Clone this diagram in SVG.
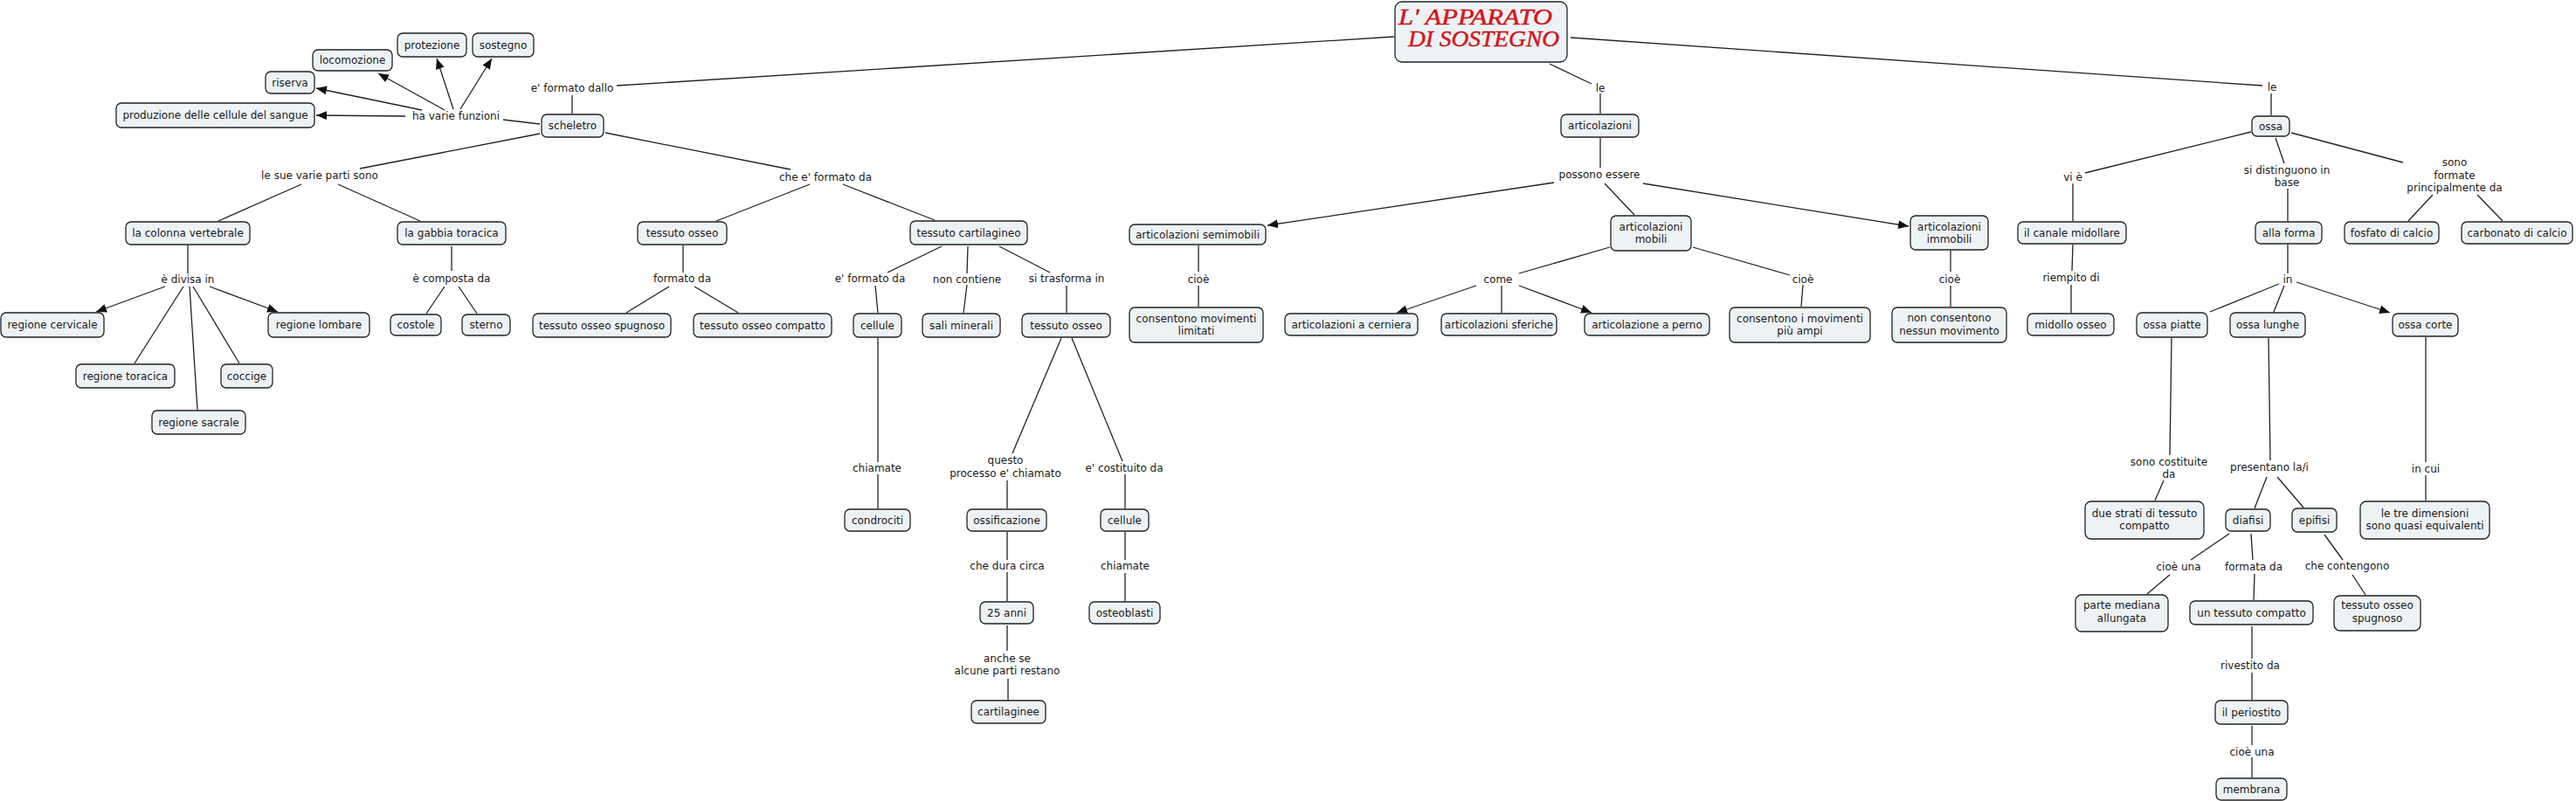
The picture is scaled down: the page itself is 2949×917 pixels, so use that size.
<svg xmlns="http://www.w3.org/2000/svg" width="2949" height="917" viewBox="0 0 2949 917">
<style>
.node rect{fill:#edf2f5;stroke:#222;stroke-width:1.3}
text{font-family:"DejaVu Sans","Noto Sans",sans-serif;font-size:12px;fill:#1a1a1a;text-anchor:middle}
.conn line{stroke:#222;stroke-width:1.3}
.conn line.arr{marker-end:url(#ah)}
.title{font-family:"Liberation Serif","DejaVu Serif",serif;font-style:italic;font-size:26px;fill:#e3151c;stroke:#b00000;stroke-width:0.4;text-anchor:start}
</style>
<defs>
<marker id="ah" markerUnits="userSpaceOnUse" markerWidth="13" markerHeight="11" refX="12" refY="5" orient="auto">
<path d="M0,0 L12,5 L0,10 z" fill="#111"/>
</marker>
</defs>
<rect width="2949" height="917" fill="#fff"/>
<g id="connectors" class="conn">
<line x1="706" y1="98" x2="1596" y2="42"/>
<line x1="655" y1="109" x2="655" y2="130"/>
<line x1="618" y1="142" x2="576" y2="137"/>
<line class="arr" x1="464" y1="133" x2="362" y2="132"/>
<line class="arr" x1="483" y1="126" x2="362" y2="101"/>
<line class="arr" x1="509" y1="126" x2="433" y2="84"/>
<line class="arr" x1="519" y1="125" x2="500" y2="67"/>
<line class="arr" x1="527" y1="125" x2="563" y2="67"/>
<line x1="618" y1="153" x2="412" y2="193"/>
<line x1="345" y1="211" x2="250" y2="253"/>
<line x1="387" y1="211" x2="481" y2="253"/>
<line x1="215" y1="281" x2="215" y2="313"/>
<line class="arr" x1="189" y1="328" x2="110" y2="357"/>
<line x1="210" y1="328" x2="154" y2="416"/>
<line x1="217" y1="328" x2="226" y2="469"/>
<line x1="221" y1="328" x2="274" y2="416"/>
<line class="arr" x1="240" y1="328" x2="318" y2="357"/>
<line x1="517" y1="282" x2="517" y2="310"/>
<line x1="509" y1="328" x2="488" y2="359"/>
<line x1="525" y1="328" x2="546" y2="359"/>
<line x1="693" y1="152" x2="905" y2="194"/>
<line x1="927" y1="211" x2="820" y2="253"/>
<line x1="965" y1="211" x2="1070" y2="252"/>
<line x1="782" y1="281" x2="782" y2="312"/>
<line x1="766" y1="328" x2="717" y2="358"/>
<line x1="795" y1="328" x2="845" y2="358"/>
<line x1="1078" y1="282" x2="1016" y2="312"/>
<line x1="1002" y1="327" x2="1005" y2="358"/>
<line x1="1108" y1="282" x2="1107" y2="313"/>
<line x1="1107" y1="326" x2="1103" y2="358"/>
<line x1="1144" y1="282" x2="1202" y2="312"/>
<line x1="1221" y1="327" x2="1221" y2="358"/>
<line x1="1005" y1="387" x2="1005" y2="529"/>
<line x1="1005" y1="543" x2="1005" y2="582"/>
<line x1="1215" y1="387" x2="1159" y2="519"/>
<line x1="1153" y1="550" x2="1153" y2="582"/>
<line x1="1227" y1="387" x2="1285" y2="528"/>
<line x1="1288" y1="543" x2="1288" y2="582"/>
<line x1="1153" y1="609" x2="1153" y2="641"/>
<line x1="1153" y1="655" x2="1153" y2="688"/>
<line x1="1288" y1="609" x2="1288" y2="641"/>
<line x1="1288" y1="656" x2="1288" y2="688"/>
<line x1="1153" y1="716" x2="1153" y2="745"/>
<line x1="1154" y1="777" x2="1154" y2="801"/>
<line x1="1774" y1="73" x2="1822" y2="96"/>
<line x1="1832" y1="107" x2="1832" y2="130"/>
<line x1="1832" y1="158" x2="1832" y2="192"/>
<line class="arr" x1="1779" y1="209" x2="1451" y2="258"/>
<line x1="1837" y1="210" x2="1871" y2="246"/>
<line class="arr" x1="1881" y1="210" x2="2185" y2="259"/>
<line x1="1372" y1="281" x2="1372" y2="311"/>
<line x1="1372" y1="327" x2="1372" y2="351"/>
<line x1="1843" y1="283" x2="1739" y2="313"/>
<line class="arr" x1="1690" y1="327" x2="1599" y2="358"/>
<line x1="1719" y1="327" x2="1719" y2="358"/>
<line class="arr" x1="1739" y1="327" x2="1822" y2="358"/>
<line x1="1938" y1="283" x2="2049" y2="315"/>
<line x1="2064" y1="326" x2="2062" y2="351"/>
<line x1="2233" y1="287" x2="2233" y2="311"/>
<line x1="2233" y1="327" x2="2233" y2="351"/>
<line x1="1798" y1="43" x2="2590" y2="98"/>
<line x1="2600" y1="107" x2="2600" y2="132"/>
<line x1="2577" y1="151" x2="2387" y2="198"/>
<line x1="2373" y1="210" x2="2373" y2="253"/>
<line x1="2373" y1="280" x2="2372" y2="310"/>
<line x1="2371" y1="326" x2="2371" y2="358"/>
<line x1="2605" y1="158" x2="2615" y2="187"/>
<line x1="2619" y1="216" x2="2619" y2="253"/>
<line x1="2619" y1="280" x2="2619" y2="313"/>
<line x1="2609" y1="325" x2="2530" y2="357"/>
<line x1="2615" y1="327" x2="2603" y2="357"/>
<line class="arr" x1="2629" y1="323" x2="2736" y2="358"/>
<line x1="2623" y1="152" x2="2751" y2="186"/>
<line x1="2785" y1="223" x2="2757" y2="253"/>
<line x1="2836" y1="223" x2="2865" y2="253"/>
<line x1="2486" y1="387" x2="2484" y2="521"/>
<line x1="2477" y1="550" x2="2467" y2="573"/>
<line x1="2597" y1="387" x2="2599" y2="527"/>
<line x1="2595" y1="546" x2="2581" y2="582"/>
<line x1="2607" y1="546" x2="2637" y2="581"/>
<line x1="2777" y1="386" x2="2777" y2="529"/>
<line x1="2777" y1="544" x2="2777" y2="573"/>
<line x1="2552" y1="611" x2="2508" y2="641"/>
<line x1="2577" y1="611" x2="2579" y2="641"/>
<line x1="2661" y1="612" x2="2682" y2="641"/>
<line x1="2484" y1="658" x2="2458" y2="680"/>
<line x1="2581" y1="657" x2="2580" y2="687"/>
<line x1="2693" y1="658" x2="2708" y2="681"/>
<line x1="2578" y1="717" x2="2578" y2="754"/>
<line x1="2578" y1="770" x2="2578" y2="801"/>
<line x1="2578" y1="831" x2="2578" y2="853"/>
<line x1="2578" y1="867" x2="2578" y2="890"/>
</g>
<g id="labels">
<text x="655" y="105">e' formato dallo</text>
<text x="522" y="137">ha varie funzioni</text>
<text x="366" y="205">le sue varie parti sono</text>
<text x="215" y="324">è divisa in</text>
<text x="517" y="323">è composta da</text>
<text x="945" y="207">che e' formato da</text>
<text x="781" y="323">formato da</text>
<text x="996" y="323">e' formato da</text>
<text x="1107" y="324">non contiene</text>
<text x="1221" y="323">si trasforma in</text>
<text x="1004" y="540">chiamate</text>
<text x="1151" y="531">questo</text>
<text x="1151" y="546">processo e' chiamato</text>
<text x="1287" y="540">e' costituito da</text>
<text x="1153" y="652">che dura circa</text>
<text x="1288" y="652">chiamate</text>
<text x="1153" y="758">anche se</text>
<text x="1153" y="772">alcune parti restano</text>
<text x="1832" y="105">le</text>
<text x="1831" y="204">possono essere</text>
<text x="1372" y="324">cioè</text>
<text x="1715" y="324">come</text>
<text x="2064" y="324">cioè</text>
<text x="2232" y="324">cioè</text>
<text x="2601" y="104">le</text>
<text x="2373" y="207">vi è</text>
<text x="2618" y="199">si distinguono in</text>
<text x="2618" y="213">base</text>
<text x="2810" y="190">sono</text>
<text x="2810" y="205">formate</text>
<text x="2810" y="219">principalmente da</text>
<text x="2371" y="322">riempito di</text>
<text x="2619" y="324">in</text>
<text x="2483" y="533">sono costituite</text>
<text x="2483" y="547">da</text>
<text x="2598" y="539">presentano la/i</text>
<text x="2777" y="541">in cui</text>
<text x="2494" y="653">cioè una</text>
<text x="2580" y="653">formata da</text>
<text x="2687" y="652">che contengono</text>
<text x="2576" y="766">rivestito da</text>
<text x="2578" y="865">cioè una</text>
</g>
<g id="n-title" class="node"><rect x="1597" y="2" width="197" height="69" rx="8"/><text class="title" x="1601" y="28" textLength="176" lengthAdjust="spacingAndGlyphs">L' APPARATO</text><text class="title" x="1612" y="53" textLength="173" lengthAdjust="spacingAndGlyphs">DI SOSTEGNO</text></g>
<g id="n-scheletro" class="node"><rect x="620" y="131" width="71" height="26" rx="6"/><text x="655.5" y="148">scheletro</text></g>
<g id="n-produzione" class="node"><rect x="133" y="118" width="227" height="28" rx="6"/><text x="246.5" y="136">produzione delle cellule del sangue</text></g>
<g id="n-riserva" class="node"><rect x="304" y="82" width="56" height="25" rx="6"/><text x="332" y="98.5">riserva</text></g>
<g id="n-locomozione" class="node"><rect x="358" y="57" width="91" height="24" rx="6"/><text x="403.5" y="73">locomozione</text></g>
<g id="n-protezione" class="node"><rect x="455" y="38" width="79" height="27" rx="6"/><text x="494.5" y="55.5">protezione</text></g>
<g id="n-sostegno" class="node"><rect x="541" y="38" width="70" height="27" rx="6"/><text x="576" y="55.5">sostegno</text></g>
<g id="n-colonna" class="node"><rect x="144" y="254" width="142" height="26" rx="6"/><text x="215" y="271">la colonna vertebrale</text></g>
<g id="n-gabbia" class="node"><rect x="455" y="254" width="124" height="26" rx="6"/><text x="517" y="271">la gabbia toracica</text></g>
<g id="n-cervicale" class="node"><rect x="1" y="358" width="118" height="28" rx="6"/><text x="60" y="376">regione cervicale</text></g>
<g id="n-toracica" class="node"><rect x="87" y="417" width="113" height="27" rx="6"/><text x="143.5" y="434.5">regione toracica</text></g>
<g id="n-sacrale" class="node"><rect x="174" y="470" width="107" height="27" rx="6"/><text x="227.5" y="487.5">regione sacrale</text></g>
<g id="n-coccige" class="node"><rect x="253" y="417" width="59" height="27" rx="6"/><text x="282.5" y="434.5">coccige</text></g>
<g id="n-lombare" class="node"><rect x="307" y="358" width="116" height="28" rx="6"/><text x="365" y="376">regione lombare</text></g>
<g id="n-costole" class="node"><rect x="447" y="360" width="58" height="24" rx="6"/><text x="476" y="376">costole</text></g>
<g id="n-sterno" class="node"><rect x="529" y="360" width="55" height="24" rx="6"/><text x="556.5" y="376">sterno</text></g>
<g id="n-tessuto-osseo" class="node"><rect x="730" y="254" width="102" height="26" rx="6"/><text x="781" y="271">tessuto osseo</text></g>
<g id="n-cartilagineo" class="node"><rect x="1042" y="253" width="134" height="27" rx="6"/><text x="1109" y="270.5">tessuto cartilagineo</text></g>
<g id="n-spugnoso" class="node"><rect x="610" y="359" width="158" height="27" rx="6"/><text x="689" y="376.5">tessuto osseo spugnoso</text></g>
<g id="n-compatto" class="node"><rect x="794" y="359" width="158" height="27" rx="6"/><text x="873" y="376.5">tessuto osseo compatto</text></g>
<g id="n-cellule" class="node"><rect x="977" y="359" width="55" height="27" rx="6"/><text x="1004.5" y="376.5">cellule</text></g>
<g id="n-sali" class="node"><rect x="1056" y="359" width="89" height="27" rx="6"/><text x="1100.5" y="376.5">sali minerali</text></g>
<g id="n-tessuto-osseo-2" class="node"><rect x="1170" y="359" width="101" height="27" rx="6"/><text x="1220.5" y="376.5">tessuto osseo</text></g>
<g id="n-condrociti" class="node"><rect x="967" y="583" width="75" height="25" rx="6"/><text x="1004.5" y="599.5">condrociti</text></g>
<g id="n-ossificazione" class="node"><rect x="1107" y="583" width="91" height="25" rx="6"/><text x="1152.5" y="599.5">ossificazione</text></g>
<g id="n-cellule-2" class="node"><rect x="1260" y="583" width="55" height="25" rx="6"/><text x="1287.5" y="599.5">cellule</text></g>
<g id="n-25anni" class="node"><rect x="1122" y="689" width="61" height="25" rx="6"/><text x="1152.5" y="705.5">25 anni</text></g>
<g id="n-osteoblasti" class="node"><rect x="1247" y="689" width="81" height="25" rx="6"/><text x="1287.5" y="705.5">osteoblasti</text></g>
<g id="n-cartilaginee" class="node"><rect x="1112" y="802" width="85" height="26" rx="6"/><text x="1154.5" y="819">cartilaginee</text></g>
<g id="n-articolazioni" class="node"><rect x="1787" y="131" width="89" height="26" rx="6"/><text x="1831.5" y="148">articolazioni</text></g>
<g id="n-semimobili" class="node"><rect x="1293" y="257" width="156" height="23" rx="6"/><text x="1371" y="272.5">articolazioni semimobili</text></g>
<g id="n-mobili" class="node"><rect x="1844" y="247" width="92" height="40" rx="6"/><text x="1890" y="264">articolazioni</text><text x="1890" y="278">mobili</text></g>
<g id="n-immobili" class="node"><rect x="2187" y="247" width="89" height="39" rx="6"/><text x="2231.5" y="264">articolazioni</text><text x="2231.5" y="278">immobili</text></g>
<g id="n-limitati" class="node"><rect x="1293" y="352" width="153" height="40" rx="6"/><text x="1369.5" y="369">consentono movimenti</text><text x="1369.5" y="383">limitati</text></g>
<g id="n-cerniera" class="node"><rect x="1471" y="359" width="152" height="25" rx="6"/><text x="1547" y="375.5">articolazioni a cerniera</text></g>
<g id="n-sferiche" class="node"><rect x="1650" y="359" width="132" height="25" rx="6"/><text x="1716" y="375.5">articolazioni sferiche</text></g>
<g id="n-perno" class="node"><rect x="1814" y="359" width="143" height="25" rx="6"/><text x="1885.5" y="375.5">articolazione a perno</text></g>
<g id="n-ampi" class="node"><rect x="1980" y="352" width="161" height="40" rx="6"/><text x="2060.5" y="369">consentono i movimenti</text><text x="2060.5" y="383">più ampi</text></g>
<g id="n-nessun" class="node"><rect x="2166" y="352" width="131" height="40" rx="6"/><text x="2231.5" y="368">non consentono</text><text x="2231.5" y="383">nessun movimento</text></g>
<g id="n-ossa" class="node"><rect x="2578" y="133" width="43" height="23" rx="6"/><text x="2599.5" y="148.5">ossa</text></g>
<g id="n-canale" class="node"><rect x="2310" y="254" width="124" height="25" rx="6"/><text x="2372" y="270.5">il canale midollare</text></g>
<g id="n-forma" class="node"><rect x="2582" y="254" width="76" height="25" rx="6"/><text x="2620" y="270.5">alla forma</text></g>
<g id="n-fosfato" class="node"><rect x="2684" y="254" width="108" height="25" rx="6"/><text x="2738" y="270.5">fosfato di calcio</text></g>
<g id="n-carbonato" class="node"><rect x="2818" y="254" width="127" height="25" rx="6"/><text x="2881.5" y="270.5">carbonato di calcio</text></g>
<g id="n-midollo" class="node"><rect x="2321" y="359" width="99" height="25" rx="6"/><text x="2370.5" y="375.5">midollo osseo</text></g>
<g id="n-piatte" class="node"><rect x="2446" y="358" width="81" height="28" rx="6"/><text x="2486.5" y="376">ossa piatte</text></g>
<g id="n-lunghe" class="node"><rect x="2553" y="358" width="86" height="28" rx="6"/><text x="2596" y="376">ossa lunghe</text></g>
<g id="n-corte" class="node"><rect x="2739" y="359" width="75" height="26" rx="6"/><text x="2776.5" y="376">ossa corte</text></g>
<g id="n-strati" class="node"><rect x="2387" y="574" width="136" height="43" rx="7"/><text x="2455" y="592">due strati di tessuto</text><text x="2455" y="606">compatto</text></g>
<g id="n-diafisi" class="node"><rect x="2548" y="583" width="51" height="25" rx="6"/><text x="2573.5" y="599.5">diafisi</text></g>
<g id="n-epifisi" class="node"><rect x="2624" y="582" width="51" height="27" rx="6"/><text x="2649.5" y="599.5">epifisi</text></g>
<g id="n-dimensioni" class="node"><rect x="2702" y="574" width="148" height="43" rx="7"/><text x="2776" y="592">le tre dimensioni</text><text x="2776" y="606">sono quasi equivalenti</text></g>
<g id="n-mediana" class="node"><rect x="2376" y="681" width="106" height="42" rx="7"/><text x="2429" y="697">parte mediana</text><text x="2429" y="712">allungata</text></g>
<g id="n-tcompatto" class="node"><rect x="2507" y="688" width="141" height="27" rx="6"/><text x="2577.5" y="705.5">un tessuto compatto</text></g>
<g id="n-tspugnoso" class="node"><rect x="2672" y="682" width="99" height="40" rx="7"/><text x="2721.5" y="697">tessuto osseo</text><text x="2721.5" y="712">spugnoso</text></g>
<g id="n-periostito" class="node"><rect x="2536" y="802" width="83" height="27" rx="6"/><text x="2577.5" y="819.5">il periostito</text></g>
<g id="n-membrana" class="node"><rect x="2537" y="891" width="81" height="25" rx="6"/><text x="2577.5" y="907.5">membrana</text></g>
</svg>
